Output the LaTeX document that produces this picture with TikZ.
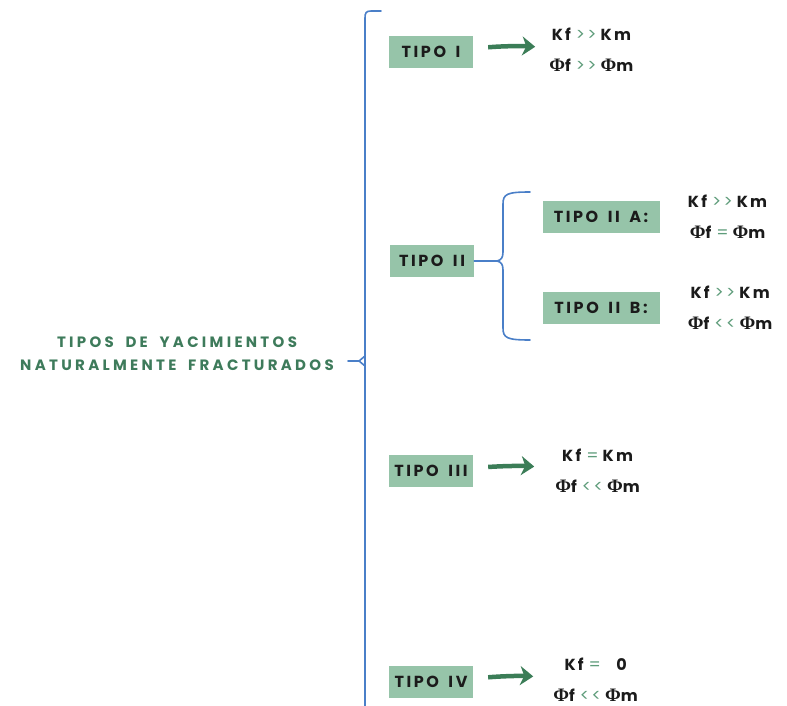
\documentclass[tikz,border=0pt]{standalone}
\usepackage{fontspec}
\setmainfont{Poppins}
\newfontfamily\tipofont{Poppins}[LetterSpace=16, WordSpace=1.6]
\newfontfamily\titlefont{Poppins}[LetterSpace=22, WordSpace=1.8]
\newfontfamily\formfont{Poppins}[LetterSpace=14]
\newfontfamily\phifont{Liberation Serif}
\usetikzlibrary{arrows.meta,positioning}

\definecolor{boxgreen}{HTML}{96C4A9}
\definecolor{titlegreen}{HTML}{3E7B5B}
\definecolor{relgreen}{HTML}{5E9C7A}
\definecolor{arrowgreen}{HTML}{3B7D57}
\definecolor{braceblue}{HTML}{4A7FC8}
\definecolor{inkblack}{HTML}{1B1B1B}

\newcommand{\rel}[1]{\hspace{5pt}\textcolor{relgreen}{\mdseries\fontsize{17}{18}\selectfont #1}\hspace{4pt}}
\newcommand{\fphi}{{\phifont\fontsize{19}{19}\selectfont Φ}}

\begin{document}
\begin{tikzpicture}[
  x=1pt, y=-1pt,
  tipo/.style={fill=boxgreen, text=inkblack, inner sep=0pt,
               font=\tipofont\bfseries\fontsize{16}{18}\selectfont,
               minimum width=84pt, minimum height=32pt},
  tipowide/.style={tipo, minimum width=117pt},
  formula/.style={align=center, inner sep=0pt, text=inkblack,
                  font=\formfont\bfseries\fontsize{16}{18}\selectfont},
  garrow/.style={draw=arrowgreen, line width=4.5pt,
                 -{Stealth[length=13pt, width=19pt, inset=4pt]},
                 shorten <=15pt, shorten >=14pt},
  brace/.style={draw=braceblue, line width=1.6pt, line cap=round}
]
  \useasboundingbox (0,0) rectangle (787,706);

  % title
  \node[align=center, text=titlegreen,
        font=\titlefont\bfseries\fontsize{15}{23}\selectfont]
    (title) at (177,354) {TIPOS DE YACIMIENTOS\\ NATURALMENTE FRACTURADOS};

  % main brace
  \coordinate (c0) at (365,361);
  \draw[brace] (381,11) -- (371,11) .. controls (366,11) and (365,13) .. (365,18)
    -- (365,712);
  \draw[brace] ([xshift=-6pt]c0) -- (365,356) ([xshift=-6pt]c0) -- (365,366)
    ([xshift=-6pt]c0) -- ++(-11,0);

  % types
  \node[tipo] (t1) at (431,52) {TIPO I};
  \node[tipo] (t2) at (432,261) {TIPO II};
  \node[tipo] (t3) at (431,471) {TIPO III};
  \node[tipo] (t4) at (431,682) {TIPO IV};
  \node[tipowide] (t2a) at (601,217) {TIPO II A:};
  \node[tipowide] (t2b) at (601,308) {TIPO II B:};

  % relations
  \node[formula, right=76pt of t1, yshift=2pt] (f1)
    {Kf\rel{>>}Km\\[13pt] \fphi f\rel{>>}\fphi m};
  \node[formula, right=28pt of t2a] (f2a)
    {Kf\rel{>>}Km\\[13pt] \fphi f\rel{=}\fphi m};
  \node[formula, right=28pt of t2b] (f2b)
    {Kf\rel{>>}Km\\[13pt] \fphi f\rel{<<}\fphi m};
  \node[formula, right=82pt of t3] (f3)
    {Kf\rel{=}Km\\[13pt] \fphi f\rel{<<}\fphi m};
  \node[formula, right=80pt of t4, yshift=2pt] (f4)
    {Kf\rel{=}\ \ 0\\[13pt] \fphi f\rel{<<}\fphi m};

  % arrows
  \draw[garrow] (t1) to[bend left=4] (f1);
  \draw[garrow, shorten >=21pt] (t3) to[bend left=4] (f3);
  \draw[garrow, shorten >=20pt] (t4) to[bend left=4] (f4);

  % brace of type II
  \coordinate (b2) at (497,261);
  \draw[brace] (t2.east) -- (b2)
    .. controls (501,260) and (503,258) .. (503,252) -- (503,204)
    .. controls (503,194) and (507,192) .. (530,192);
  \draw[brace] (b2)
    .. controls (501,262) and (503,264) .. (503,270) -- (503,328)
    .. controls (503,338) and (507,340) .. (530,340);
\end{tikzpicture}
\end{document}
